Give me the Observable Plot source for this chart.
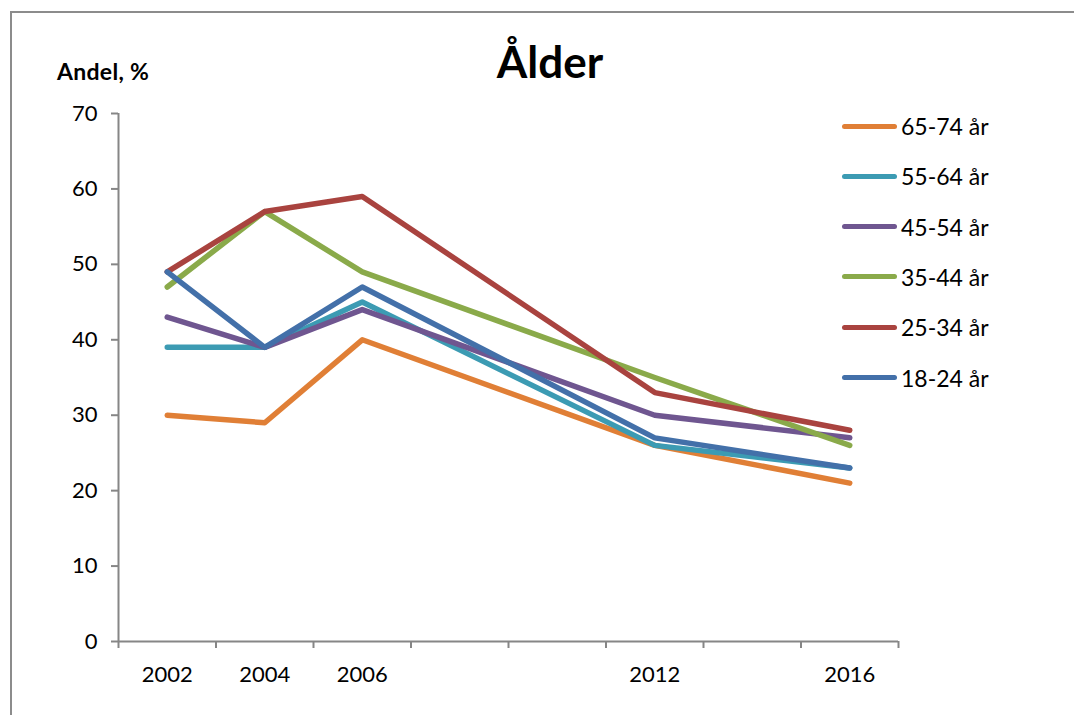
<!DOCTYPE html>
<html>
<head>
<meta charset="utf-8">
<script src="https://cdn.jsdelivr.net/npm/d3@7"></script>
<script src="https://cdn.jsdelivr.net/npm/@observablehq/plot@0.6"></script>
<style>
  html, body { margin: 0; padding: 0; background: #fff; }
  #wrap { position: relative; width: 1074px; height: 715px; overflow: hidden; font-family: Lato, "Open Sans", sans-serif; }
  #frame { position: absolute; left: 10px; top: 11px; width: 1080px; height: 720px; border-top: 2px solid #8c8c8c; border-left: 2px solid #8c8c8c; box-sizing: border-box; }
  #title { position: absolute; left: 0; width: 1100px; top: 36px; text-align: center; font-weight: bold; font-size: 44px; line-height: 50px; color: #000; }
  #ylab { position: absolute; left: 57px; top: 57px; font-weight: bold; font-size: 23px; line-height: 28px; color: #000; letter-spacing: 0.3px; }
  #legend { position: absolute; left: 842px; top: 113px; }
  .row { position: absolute; left: 0; height: 26px; display: flex; align-items: center; white-space: nowrap; }
  .sw { width: 55px; height: 5px; border-radius: 3px; margin-right: 4px; }
  .lt { font-size: 23px; color: #000; }
  #chart { position: absolute; left: 0; top: 0; }
</style>
</head>
<body>
<div id="wrap">
  <div id="frame"></div>
  <div id="chart"></div>
  <div id="title">Ålder</div>
  <div id="ylab">Andel, %</div>
  <div id="legend"></div>
</div>
<script>
// ---- data ----
const years = [2002, 2004, 2006, 2012, 2016];
const tickLabels = [2002, 2004, 2006, 2012, 2016];
const seriesNames = ["65-74 år", "55-64 år", "45-54 år", "35-44 år", "25-34 år", "18-24 år"];
const seriesColors = ["#E07F36", "#3C9BB3", "#6F5690", "#8AAA4A", "#A9433F", "#4370A9"];
const v65_74 = [30, 29, 40, 26, 21];
const v55_64 = [39, 39, 45, 26, 23];
const v45_54 = [43, 39, 44, 30, 27];
const v35_44 = [47, 57, 49, 35, 26];
const v25_34 = [49, 57, 59, 33, 28];
const v18_24 = [49, 39, 47, 27, 23];
const yTicks = [0, 10, 20, 30, 40, 50, 60, 70];

const allValues = [v65_74, v55_64, v45_54, v35_44, v25_34, v18_24];
const rows = [];
seriesNames.forEach((name, i) => {
  years.forEach((yr, j) => rows.push({group: name, year: yr, value: allValues[i][j]}));
});

const gray = "#868686";
const boundaries = d3.range(2001, 2018, 2);

const chart = Plot.plot({
  width: 1074,
  height: 715,
  marginTop: 113,
  marginBottom: 74,
  marginLeft: 118,
  marginRight: 176,
  style: {fontFamily: "Lato, 'Open Sans', sans-serif", fontSize: "22px", background: "transparent"},
  x: {domain: [2001, 2017], axis: null},
  y: {domain: [0, 70], axis: null},
  color: {domain: seriesNames, range: seriesColors},
  marks: [
    Plot.axisY({ticks: yTicks, tickSize: 7, tickPadding: 14, stroke: gray, strokeWidth: 2, fill: "#000", label: null, fontSize: 22}),
    Plot.axisX({ticks: boundaries, tickSize: 7, tickFormat: () => "", stroke: gray, strokeWidth: 2, label: null}),
    Plot.axisX({ticks: tickLabels, tickSize: 0, tickPadding: 25, tickFormat: d => String(d), fill: "#000", label: null, fontSize: 22}),
    Plot.ruleX([2001], {y1: 0, y2: 70, stroke: gray, strokeWidth: 2}),
    Plot.ruleY([0], {x1: 2001, x2: 2017, stroke: gray, strokeWidth: 2}),
    Plot.line(rows, {x: "year", y: "value", z: "group", stroke: "group", strokeWidth: 5.5, strokeLinecap: "round", strokeLinejoin: "round"})
  ]
});
document.getElementById("chart").appendChild(chart);

// legend
const legend = document.getElementById("legend");
seriesNames.forEach((name, i) => {
  const r = document.createElement("div");
  r.className = "row";
  r.style.top = (i * 50.3) + "px";
  const sw = document.createElement("div");
  sw.className = "sw";
  sw.style.background = seriesColors[i];
  const t = document.createElement("span");
  t.className = "lt";
  t.textContent = name;
  r.appendChild(sw);
  r.appendChild(t);
  legend.appendChild(r);
});
</script>
</body>
</html>
